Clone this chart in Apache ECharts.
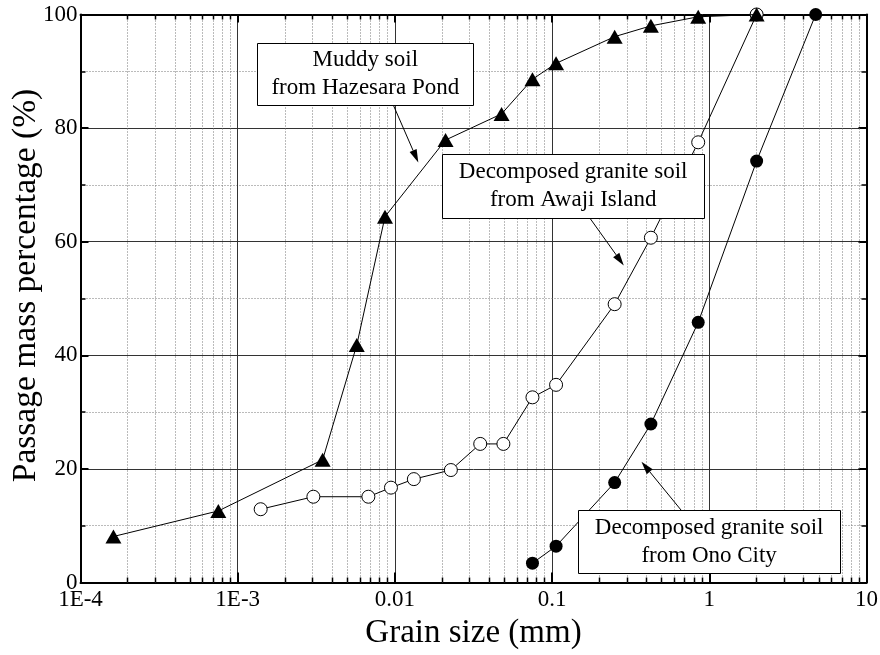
<!DOCTYPE html>
<html>
<head>
<meta charset="utf-8">
<script src="https://cdn.jsdelivr.net/npm/echarts@6/dist/echarts.min.js"></script>
<style>
  html, body { margin: 0; padding: 0; background: #fff; }
  #chart { width: 880px; height: 655px; }
</style>
</head>
<body>
<div id="chart"></div>
<script>
// Grain size distribution curves (grain size in mm, passing mass in %)
const muddyX = [0.000162, 0.000753, 0.00347, 0.00572, 0.00865, 0.0210, 0.0477, 0.075, 0.106, 0.25, 0.425, 0.85, 2.0];
const muddyY = [8.1, 12.6, 21.6, 41.8, 64.4, 77.9, 82.5, 88.6, 91.4, 96.1, 98.0, 99.6, 100];

const awajiX = [0.00140, 0.00303, 0.00678, 0.00944, 0.0132, 0.0227, 0.0349, 0.0490, 0.075, 0.106, 0.25, 0.425, 0.85, 2.0];
const awajiY = [12.9, 15.1, 15.1, 16.7, 18.2, 19.8, 24.4, 24.4, 32.6, 34.8, 49.0, 60.7, 77.5, 100];

const onoX = [0.075, 0.106, 0.25, 0.425, 0.85, 2.0, 4.75];
const onoY = [3.4, 6.4, 17.6, 27.9, 45.8, 74.2, 100];

const xTickLabels = ['1E-4', '1E-3', '0.01', '0.1', '1', '10'];
const xMinExp = -4;
const yTickLabels = ['0', '20', '40', '60', '80', '100'];

const annotationTexts = [
  'Muddy soil\nfrom Hazesara Pond',
  'Decomposed granite soil\nfrom Awaji Island',
  'Decomposed granite soil\nfrom Ono City'
];

const FONT = "'Liberation Serif', 'Times New Roman', serif";

function pairs(xs, ys) { return xs.map((x, i) => [x, ys[i]]); }

// Minor log positions (2..9 within each decade)
const minorX = [];
for (let e = xMinExp; e < 1; e++) {
  for (let m = 2; m <= 9; m++) minorX.push([m * Math.pow(10, e), 0]);
}

function snap(v) { return Math.round(v - 0.5) + 0.5; }

// Arrow from a box edge to a point on the curve
function arrow(x1, y1, x2, y2) {
  const dx = x2 - x1, dy = y2 - y1;
  const len = Math.sqrt(dx * dx + dy * dy);
  const ux = dx / len, uy = dy / len;
  const hl = 13, hw = 3.8;
  const bx = x2 - ux * hl, by = y2 - uy * hl;
  return [
    { type: 'line', z: 20, shape: { x1: x1, y1: y1, x2: bx, y2: by }, style: { stroke: '#000', lineWidth: 1 } },
    { type: 'polygon', z: 20, shape: { points: [[x2, y2], [bx - uy * hw, by + ux * hw], [bx + uy * hw, by - ux * hw]] }, style: { fill: '#000' } }
  ];
}

function box(x, y, w, h, text) {
  return [
    { type: 'rect', z: 20, shape: { x: snap(x), y: snap(y), width: Math.round(w), height: Math.round(h) }, style: { fill: '#fff', stroke: '#000', lineWidth: 1 } },
    { type: 'text', z: 21, x: x + w / 2, y: y + h / 2, style: { text: text, font: '23px ' + FONT, fill: '#000', align: 'center', verticalAlign: 'middle', lineHeight: 28 } }
  ];
}

const chart = echarts.init(document.getElementById('chart'), null, { renderer: 'canvas' });

const axisLineStyle = { color: '#000', width: 2 };

const option = {
  animation: false,
  backgroundColor: '#fff',
  grid: { left: 80.5, right: 13.5, top: 14.5, bottom: 72.5, containLabel: false, outerBoundsMode: 'none' },
  xAxis: [
    {
      type: 'log', logBase: 10, min: 0.0001, max: 10, splitNumber: 5,
      position: 'bottom',
      name: 'Grain size (mm)', nameLocation: 'middle', nameGap: 27,
      nameTextStyle: { fontFamily: FONT, fontSize: 33, color: '#000' },
      axisLine: { show: true, onZero: false, lineStyle: axisLineStyle },
      axisTick: { show: true, inside: true, length: 10, lineStyle: { color: '#000', width: 2 } },
      axisLabel: {
        margin: 6, fontFamily: FONT, fontSize: 23, color: '#000',
        formatter: v => xTickLabels[Math.round(Math.log10(v)) - xMinExp]
      },
      splitLine: { show: true, lineStyle: { color: '#333', width: 1 } }
    },
    {
      type: 'log', logBase: 10, min: 0.0001, max: 10, splitNumber: 5,
      position: 'top',
      axisLine: { show: true, onZero: false, lineStyle: axisLineStyle },
      axisTick: { show: true, inside: true, length: 8, lineStyle: { color: '#000', width: 2 } },
      axisLabel: { show: false },
      splitLine: { show: false }
    }
  ],
  yAxis: [
    {
      type: 'value', min: 0, max: 100, interval: 20,
      name: 'Passage mass percentage (%)', nameLocation: 'middle', nameGap: 37,
      nameMoveOverlap: false,
      nameTextStyle: { fontFamily: FONT, fontSize: 33.5, color: '#000', padding: [0, 0, 0, 26] },
      axisLine: { show: true, onZero: false, lineStyle: axisLineStyle },
      axisTick: { show: true, inside: true, length: 8, lineStyle: { color: '#000', width: 2 } },
      minorTick: { show: true, splitNumber: 2, length: 5, lineStyle: { color: '#000', width: 1.5 } },
      axisLabel: {
        margin: 3, fontFamily: FONT, fontSize: 23, color: '#000',
        formatter: v => yTickLabels[Math.round(v / 20)]
      },
      splitLine: { show: true, lineStyle: { color: '#333', width: 1 } },
      minorSplitLine: { show: true, lineStyle: { color: '#777', width: 1, type: [1, 2] } }
    },
    {
      type: 'value', min: 0, max: 100, interval: 20,
      position: 'right',
      axisLine: { show: true, onZero: false, lineStyle: axisLineStyle },
      axisTick: { show: true, inside: true, length: 8, lineStyle: { color: '#000', width: 2 } },
      minorTick: { show: true, splitNumber: 2, length: 5, lineStyle: { color: '#000', width: 1.5 } },
      axisLabel: { show: false },
      splitLine: { show: false }
    }
  ],
  series: [
    {
      name: 'minor-grid',
      type: 'custom',
      xAxisIndex: 0, yAxisIndex: 0,
      silent: true, z: 1,
      data: minorX,
      encode: { x: 0, y: 1 },
      renderItem: function (params, api) {
        const x = api.value(0);
        const b = api.coord([x, 0]);
        const t = api.coord([x, 100]);
        const px = snap(b[0]);
        return {
          type: 'group',
          children: [
            { type: 'line', shape: { x1: px, y1: t[1], x2: px, y2: b[1] }, style: { stroke: '#777', lineWidth: 1, lineDash: [1, 2] } },
            { type: 'line', shape: { x1: px, y1: b[1], x2: px, y2: b[1] - 5 }, style: { stroke: '#000', lineWidth: 1.5 } },
            { type: 'line', shape: { x1: px, y1: t[1], x2: px, y2: t[1] + 5 }, style: { stroke: '#000', lineWidth: 1.5 } }
          ]
        };
      }
    },
    {
      name: 'Muddy soil from Hazesara Pond',
      type: 'line', z: 5,
      data: pairs(muddyX, muddyY),
      symbol: 'triangle', symbolSize: [16, 14],
      itemStyle: { color: '#000' },
      lineStyle: { color: '#000', width: 1 }
    },
    {
      name: 'Decomposed granite soil from Awaji Island',
      type: 'line', z: 4,
      data: pairs(awajiX, awajiY),
      symbol: 'circle', symbolSize: 13,
      itemStyle: { color: '#fff', borderColor: '#000', borderWidth: 1 },
      lineStyle: { color: '#000', width: 1 }
    },
    {
      name: 'Decomposed granite soil from Ono City',
      type: 'line', z: 4,
      data: pairs(onoX, onoY),
      symbol: 'circle', symbolSize: 13,
      itemStyle: { color: '#000' },
      lineStyle: { color: '#000', width: 1 }
    }
  ],
  graphic: [].concat(
    box(257.3, 43.3, 216, 61.7, annotationTexts[0]),
    arrow(393.3, 105, 418.3, 162.5),
    box(442.3, 154.3, 261.7, 64, annotationTexts[1]),
    arrow(590, 218.3, 623.8, 265.5),
    box(578.3, 510, 261.7, 63.3, annotationTexts[2]),
    arrow(681, 510, 641.5, 461.7)
  )
};

chart.setOption(option);
</script>
</body>
</html>
